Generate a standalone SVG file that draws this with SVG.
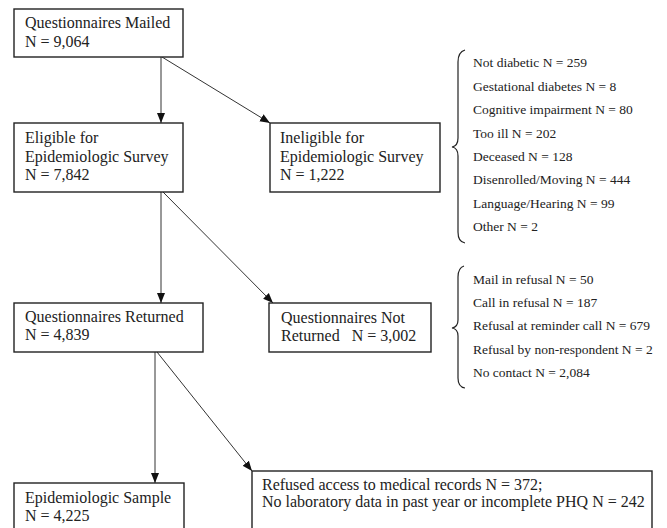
<svg xmlns="http://www.w3.org/2000/svg" width="667" height="528" viewBox="0 0 667 528">
<style>
.box{fill:#fff;stroke:#222;stroke-width:1.4}
.t{font-family:"Liberation Serif","Times New Roman",serif;font-size:16px;fill:#222}
.l{font-family:"Liberation Serif","Times New Roman",serif;font-size:13.5px;fill:#222}
.c{stroke:#333;stroke-width:1;fill:none}
.br{stroke:#222;stroke-width:1.2;fill:none}
</style>
<defs>
<marker id="ah" markerUnits="userSpaceOnUse" markerWidth="10" markerHeight="10" viewBox="0 0 10 10" refX="10" refY="5" orient="auto">
<path d="M0,1 L10,5 L0,9 Z" fill="#111"/>
</marker>
</defs>
<rect width="667" height="528" fill="#fff"/>
<g id="connectors">
<line class="c" x1="161" y1="57" x2="161" y2="123" marker-end="url(#ah)"/>
<line class="c" x1="162" y1="57" x2="270" y2="123" marker-end="url(#ah)"/>
<line class="c" x1="161" y1="192" x2="161" y2="303" marker-end="url(#ah)"/>
<line class="c" x1="163" y1="192" x2="273" y2="303" marker-end="url(#ah)"/>
<line class="c" x1="155" y1="352" x2="155" y2="483" marker-end="url(#ah)"/>
<line class="c" x1="157" y1="352" x2="252" y2="471" marker-end="url(#ah)"/>
</g>
<g id="mailed">
<rect class="box" x="14" y="9" width="169" height="48"/>
<text class="t" x="25" y="28">Questionnaires Mailed</text>
<text class="t" x="25" y="47">N = 9,064</text>
</g>
<g id="eligible">
<rect class="box" x="14" y="123" width="169" height="69"/>
<text class="t" x="25" y="143">Eligible for</text>
<text class="t" x="25" y="162">Epidemiologic Survey</text>
<text class="t" x="25" y="180">N = 7,842</text>
</g>
<g id="ineligible">
<rect class="box" x="270" y="123" width="170" height="69"/>
<text class="t" x="280" y="143">Ineligible for</text>
<text class="t" x="280" y="162">Epidemiologic Survey</text>
<text class="t" x="280" y="180">N = 1,222</text>
</g>
<g id="ineligible-reasons">
<path class="br" d="M465,50 Q458,52 458,62 L458,138 Q458,146 452,147 Q458,148 458,156 L458,232 Q458,242 465,243"/>
<text class="l" x="473" y="67">Not diabetic N = 259</text>
<text class="l" x="473" y="91">Gestational diabetes N = 8</text>
<text class="l" x="473" y="114">Cognitive impairment N = 80</text>
<text class="l" x="473" y="138">Too ill N = 202</text>
<text class="l" x="473" y="161">Deceased N = 128</text>
<text class="l" x="473" y="184">Disenrolled/Moving N = 444</text>
<text class="l" x="473" y="208">Language/Hearing N = 99</text>
<text class="l" x="473" y="231">Other N = 2</text>
</g>
<g id="returned">
<rect class="box" x="14" y="303" width="189" height="49"/>
<text class="t" x="25" y="322">Questionnaires Returned</text>
<text class="t" x="25" y="340">N = 4,839</text>
</g>
<g id="not-returned">
<rect class="box" x="269" y="303" width="162" height="49"/>
<text class="t" x="281" y="323">Questionnaires Not</text>
<text class="t" x="281" y="341" xml:space="preserve">Returned   N = 3,002</text>
</g>
<g id="not-returned-reasons">
<path class="br" d="M464,266 Q458,268 458,277 L458,320 Q458,327 452,328 Q458,329 458,336 L458,378 Q458,387 465,388"/>
<text class="l" x="473" y="284">Mail in refusal N = 50</text>
<text class="l" x="473" y="307">Call in refusal N = 187</text>
<text class="l" x="473" y="330">Refusal at reminder call N = 679</text>
<text class="l" x="473" y="354">Refusal by non-respondent N = 2</text>
<text class="l" x="473" y="377">No contact N = 2,084</text>
</g>
<g id="sample">
<rect class="box" x="14" y="483" width="170" height="50"/>
<text class="t" x="25" y="503">Epidemiologic Sample</text>
<text class="t" x="25" y="521">N = 4,225</text>
</g>
<g id="excluded">
<rect class="box" x="252" y="471" width="400" height="65"/>
<text class="t" x="262" y="490">Refused access to medical records N = 372;</text>
<text class="t" x="262" y="507">No laboratory data in past year or incomplete PHQ N = 242</text>
</g>
</svg>
